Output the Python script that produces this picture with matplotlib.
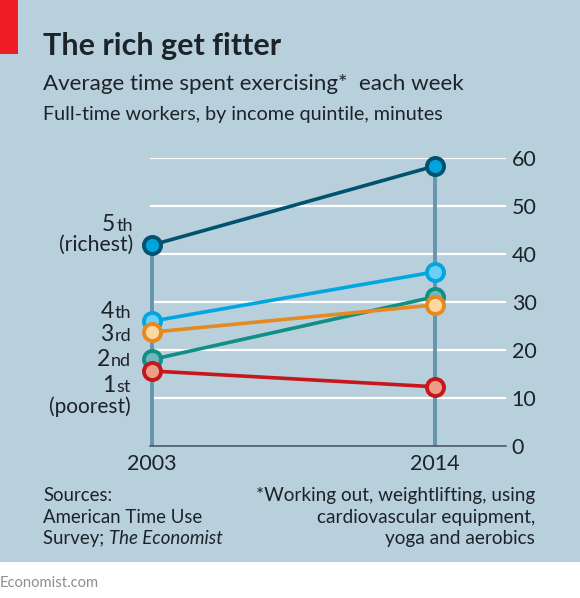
import matplotlib
matplotlib.use("Agg")
import matplotlib.pyplot as plt
from matplotlib.patches import Rectangle

years = [2003, 2014]
quintile_5th = [41.9, 58.4]
quintile_4th = [26.0, 36.3]
quintile_3rd = [23.7, 29.4]
quintile_2nd = [18.0, 31.1]
quintile_1st = [15.6, 12.3]
yticks = [0, 10, 20, 30, 40, 50, 60]

W, H = 580, 598
plt.rcParams['font.family'] = ['Lato', 'DejaVu Sans']
INK = '#1c2329'
BG = '#b8cfdc'

fig = plt.figure(figsize=(W / 100, H / 100), dpi=100, facecolor='white')

def px(x, y):
    return x / W, 1 - y / H

def T(x, y, s, **kw):
    kw.setdefault('color', INK)
    kw.setdefault('va', 'baseline')
    return fig.text(*px(x, y), s, **kw)

fig.add_artist(Rectangle((0, 1 - 562 / H), 1, 562 / H, transform=fig.transFigure,
                         facecolor=BG, edgecolor='none', zorder=-5))
fig.add_artist(Rectangle((0, 1 - 54 / H), 18 / W, 54 / H, transform=fig.transFigure,
                         facecolor='#ee1c25', edgecolor='none', zorder=-4))

# axes box in pixels
L, R, TOP, BOT = 150.0, 505.5, 158.3, 445.7
ax = fig.add_axes([L / W, 1 - BOT / H, (R - L) / W, (BOT - TOP) / H])
ax.patch.set_alpha(0)
u = (years[1] - years[0]) / (435.0 - 152.0)
ax.set_xlim(years[0] - (152 - L) * u, years[1] + (R - 435) * u)
ax.set_ylim(0, 60)
for s in ['top', 'left', 'right']:
    ax.spines[s].set_visible(False)
ax.spines['bottom'].set_color('#44505a')
ax.spines['bottom'].set_linewidth(1.1)

ax.yaxis.tick_right()
ax.set_yticks(yticks)
ax.set_xticks(years)
ax.tick_params(axis='both', length=0)
ax.tick_params(axis='y', pad=4.5, labelsize=15.5, labelcolor=INK)
ax.tick_params(axis='x', pad=6, labelsize=15.5, labelcolor=INK)
for lab in ax.get_yticklabels():
    lab.set_ha('left')
for v in yticks[1:]:
    ax.axhline(v, color='white', lw=1.6, zorder=1, solid_capstyle='butt')

ax.vlines(years[0], 0, quintile_5th[0], color='#6596ae', lw=2.8, zorder=2)
ax.vlines(years[1], 0, quintile_5th[1], color='#6596ae', lw=2.8, zorder=2)

series = [
    (quintile_5th, '#00526f', '#00a3dc'),
    (quintile_4th, '#00a7e0', '#6ccff6'),
    (quintile_2nd, '#0f8f85', '#72b8bb'),
    (quintile_3rd, '#e58a1f', '#fdd9a0'),
    (quintile_1st, '#c8161d', '#ec9f86'),
]
for i, (vals, edge, face) in enumerate(series):
    ax.plot(years, vals, color=edge, lw=2.6, zorder=3 + i, clip_on=False,
            marker='o', ms=12.3, mfc=face, mec=edge, mew=2.8)

# headings
T(43, 55, 'The rich get fitter', fontsize=22, fontweight='bold')
T(43, 90, 'Average time spent exercising*  each week', fontsize=16.1)
T(43, 120, 'Full-time workers, by income quintile, minutes', fontsize=14.2)

# direct labels
def ordinal(xr, y, num, suf):
    t = T(xr, y, suf, fontsize=13, ha='right')
    w = t.get_window_extent(fig.canvas.get_renderer()).width
    T(xr - w - 1, y, num, fontsize=16.5, ha='right')

ordinal(133, 231, '5', 'th')
T(133, 251, '(richest)', fontsize=15.2, ha='right')
ordinal(131, 318, '4', 'th')
ordinal(131, 341, '3', 'rd')
ordinal(131, 366.5, '2', 'nd')
ordinal(131, 392, '1', 'st')
T(131, 413, '(poorest)', fontsize=15, ha='right')

# footers
FS = 13.4
T(43, 501, 'Sources:', fontsize=FS)
T(43, 523, 'American Time Use', fontsize=FS)
t = T(43, 544, 'Survey; ', fontsize=FS)
w = t.get_window_extent(fig.canvas.get_renderer()).width
T(43 + w, 544, 'The Economist', fontsize=FS, style='italic')
T(535, 501, '*Working out, weightlifting, using', fontsize=13.7, ha='right')
T(535, 523, 'cardiovascular equipment,', fontsize=13.7, ha='right')
T(535, 544, 'yoga and aerobics', fontsize=13.7, ha='right')
T(0, 587, 'Economist.com', fontsize=10.6, color='#8a8f93')

fig.savefig('out.png', dpi=100, facecolor='white')
